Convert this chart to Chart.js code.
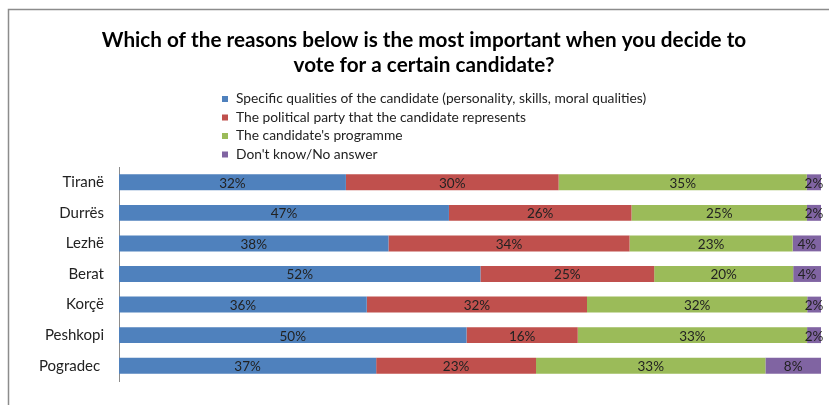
<!DOCTYPE html>
<html lang="en">

<head>
    <meta charset="UTF-8">
    <title>Reasons for voting</title>
    <script src="https://cdn.jsdelivr.net/npm/chart.js"></script>
    <style>
        html, body { margin: 0; padding: 0; background: #fff; }
        #wrap { width: 829px; height: 405px; }
    </style>
</head>

<body>
    <div id="wrap"><canvas id="chart" width="829" height="405"></canvas></div>

    <script>
        // Data (percent per city, as labelled)
        const cities = ['Tiranë', 'Durrës', 'Lezhë', 'Berat', 'Korçë', 'Peshkopi', 'Pogradec '];
        const qualities = [32, 47, 38, 52, 36, 50, 37];
        const party = [30, 26, 34, 25, 32, 16, 23];
        const programme = [35, 25, 23, 20, 32, 33, 33];
        const dontKnow = [2, 2, 4, 4, 2, 2, 8];

        const seriesNames = [
            'Specific qualities of the candidate (personality, skills, moral qualities)',
            'The political party that the candidate represents',
            "The candidate's programme",
            "Don't know/No answer"
        ];
        const seriesValues = [qualities, party, programme, dontKnow];
        const colors = ['#4F81BD', '#C0504D', '#9BBB59', '#8064A2'];
        const titleLines = [
            'Which of the reasons below is the most important when you decide to',
            'vote for a certain candidate?'
        ];

        // 100% stacked: each row is scaled to its own total
        const rowTotals = cities.map((c, i) => seriesValues.reduce((s, arr) => s + arr[i], 0));

        const datasets = seriesValues.map((vals, k) => ({
            label: seriesNames[k],
            raw: vals,
            data: vals.map((v, i) => v / rowTotals[i] * 100),
            backgroundColor: colors[k],
            borderWidth: 0,
            barPercentage: 0.52,
            categoryPercentage: 1
        }));

        // frame, title, legend and the labels inside the bars
        const decorations = {
            id: 'decorations',
            beforeDraw(chart) {
                const ctx = chart.ctx;
                ctx.save();
                ctx.fillStyle = '#fff';
                ctx.fillRect(0, 0, chart.width, chart.height);
                ctx.strokeStyle = '#8c8c8c';
                ctx.lineWidth = 1.5;
                ctx.beginPath();
                ctx.moveTo(8.5, chart.height);
                ctx.lineTo(8.5, 9.5);
                ctx.lineTo(chart.width, 9.5);
                ctx.stroke();
                ctx.restore();
            },
            afterDraw(chart) {
                const ctx = chart.ctx;
                ctx.save();
                // title
                ctx.fillStyle = '#000';
                ctx.font = 'bold 20.7px Lato';
                ctx.textAlign = 'center';
                ctx.textBaseline = 'middle';
                titleLines.forEach((t, i) => ctx.fillText(t, 424, 40 + i * 25));

                // legend
                ctx.font = '13.8px Lato';
                ctx.textAlign = 'left';
                chart.data.datasets.forEach((ds, i) => {
                    const y = 99 + i * 18.5;
                    ctx.fillStyle = ds.backgroundColor;
                    ctx.fillRect(222, y - 3, 6, 6);
                    ctx.fillStyle = '#222';
                    ctx.fillText(ds.label, 236, y);
                });

                // value labels
                ctx.font = '13.5px Lato';
                ctx.textAlign = 'center';
                ctx.fillStyle = '#222';
                chart.data.datasets.forEach((ds, i) => {
                    chart.getDatasetMeta(i).data.forEach((bar, j) => {
                        const cx = (bar.x + bar.base) / 2;
                        ctx.fillText(ds.raw[j] + '%', cx, bar.y + 1);
                    });
                });
                ctx.restore();
            }
        };

        new Chart(document.getElementById('chart'), {
            type: 'bar',
            data: { labels: cities, datasets: datasets },
            options: {
                indexAxis: 'y',
                responsive: false,
                animation: false,
                layout: { padding: { top: 167, left: 8, right: 8, bottom: 14 } },
                plugins: {
                    legend: { display: false },
                    title: { display: false },
                    tooltip: { enabled: false }
                },
                scales: {
                    x: { stacked: true, min: 0, max: 100, display: false },
                    y: {
                        stacked: true,
                        grid: { display: false, drawTicks: false },
                        border: { display: true, color: '#8c8c8c', width: 1 },
                        ticks: {
                            color: '#222',
                            font: { family: 'Lato', size: 15 },
                            padding: 15
                        },
                        afterFit(scale) { scale.width = 111; }
                    }
                }
            },
            plugins: [decorations]
        });
    </script>
</body>

</html>
